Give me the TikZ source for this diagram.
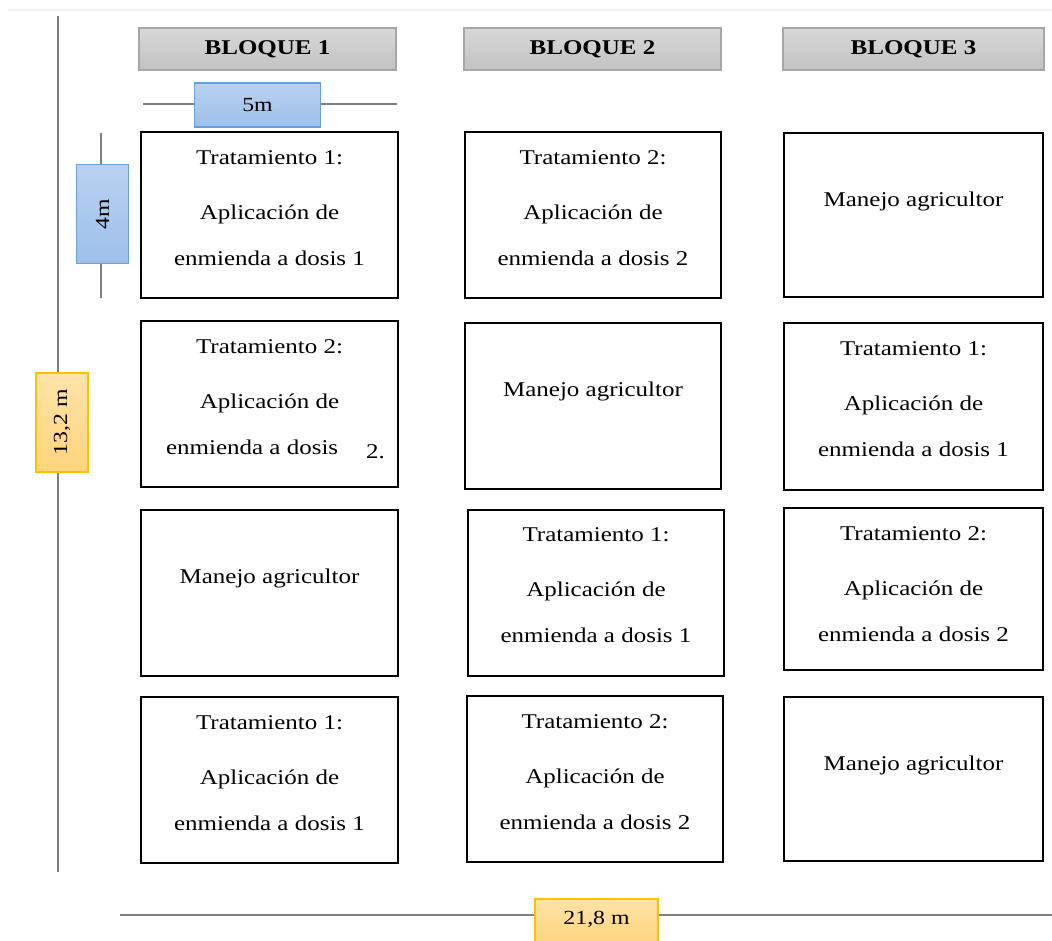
\documentclass[tikz,border=0pt]{standalone}
\usepackage{fontspec}
\setmainfont{Liberation Serif}[FakeStretch=1.19]
\usetikzlibrary{positioning}

\definecolor{lineagris}{HTML}{7F7F7F}
\definecolor{cabeceraA}{HTML}{D8D8D8}
\definecolor{cabeceraB}{HTML}{C2C2C2}
\definecolor{cabeceraborde}{HTML}{A6A6A6}
\definecolor{azulA}{HTML}{B9D1F0}
\definecolor{azulB}{HTML}{9EC0EA}
\definecolor{azulborde}{HTML}{6B9FDB}
\definecolor{naranjaA}{HTML}{FFE3A8}
\definecolor{naranjaB}{HTML}{FFD47C}
\definecolor{naranjaborde}{HTML}{FFC000}

% text of a treated plot
\newcommand{\tratamiento}[1]{Tratamiento #1:\\[30pt]Aplicación de\\[21pt]enmienda a dosis #1}

\tikzset {
  every node/.style = {
    font = \fontsize{21}{25}\selectfont
  },
  % block title
  bloque/.style = {
    draw = cabeceraborde,
    line width = 1.2pt,
    top color = cabeceraA,
    bottom color = cabeceraB,
    minimum width = 257,
    minimum height = 42,
    inner sep = 0,
    font = \fontsize{21}{25}\selectfont\bfseries
  },
  % experimental plot
  parcela/.style = {
    draw = black,
    line width = 2pt,
    minimum width = 257,
    minimum height = 166,
    inner sep = 0
  },
  % text inside a plot
  texto/.style = {
    align = center,
    inner sep = 0
  },
  % dimension line
  cota/.style = {
    draw = lineagris,
    line width = 2.8pt
  },
  medida/.style = {
    line width = 1.2pt,
    inner sep = 0,
    font = \fontsize{20}{24}\selectfont
  },
  medidaazul/.style = {
    medida,
    draw = azulborde,
    top color = azulA,
    bottom color = azulB
  },
  medidanaranja/.style = {
    medida,
    draw = naranjaborde,
    top color = naranjaA,
    bottom color = naranjaB
  }
}

\begin{document}
\begin{tikzpicture}[x=1pt,y=-1pt]
    \useasboundingbox (0,0) rectangle (1052,941);
    \clip (0,0) rectangle (1052,941);

    \coordinate (bordeA) at (8,10);
    \coordinate (bordeB) at (1052,10);
    \draw[draw = black!6, line width = 2pt] (bordeA) -- (bordeB);

    % dimension lines
    \coordinate (largoA) at (58,16);
    \coordinate (largoB) at (58,872);
    \coordinate (anchoA) at (120,915);
    \coordinate (anchoB) at (1060,915);
    \coordinate (parcelaA) at (143,104);
    \coordinate (parcelaB) at (397,104);
    \coordinate (parcelaC) at (101,133);
    \coordinate (parcelaD) at (101,298);
    \draw[cota] (largoA) -- (largoB);
    \draw[cota] (anchoA) -- (anchoB);
    \draw[cota] (parcelaA) -- (parcelaB);
    \draw[cota] (parcelaC) -- (parcelaD);

    \node[medidaazul, minimum width = 126, minimum height = 44] (m5) at (257.5,105) {5m};
    \node[medidaazul, rotate = 90, minimum width = 99, minimum height = 52] (m4) at (102.5,214) {4m};
    \node[medidanaranja, rotate = 90, minimum width = 99, minimum height = 52] (m132) at (62,422.5) {13,2 m};
    \node[medidanaranja, minimum width = 123, minimum height = 46] (m218) at (596.5,922) {};
    \node[font = \fontsize{20}{24}\selectfont] (t218) at (596.5,919) {21,8 m};

    % block titles
    \node[bloque] (bloque1) at (267.5,49) {BLOQUE 1};
    \node[bloque] (bloque2) at (592.5,49) {BLOQUE 2};
    \node[bloque, minimum width = 261] (bloque3) at (913.5,49) {BLOQUE 3};

    % block 1
    \node[parcela] (b1p1) at (269.5,215.5) {};
    \node[parcela] (b1p2) at (269.5,404) {};
    \node[parcela] (b1p3) at (269.5,592.5) {};
    \node[parcela] (b1p4) at (269.5,780) {};
    \node[texto, below = 19pt of b1p1.north] (t1p1) {\tratamiento{1}};
    \node[texto, below = 19pt of b1p2.north] (t1p2) {Tratamiento 2:\\[30pt]Aplicación de\\[21pt]\hspace*{12pt}enmienda a dosis\hspace{28pt}\raisebox{-4pt}{2.}};
    \node[texto, below = 60pt of b1p3.north] (t1p3) {Manejo agricultor};
    \node[texto, below = 19pt of b1p4.north] (t1p4) {\tratamiento{1}};

    % block 2
    \node[parcela, minimum width = 256] (b2p1) at (593,215.5) {};
    \node[parcela, minimum width = 256] (b2p2) at (593,406) {};
    \node[parcela, minimum width = 256] (b2p3) at (596,592.5) {};
    \node[parcela, minimum width = 256] (b2p4) at (595,779) {};
    \node[texto, below = 19pt of b2p1.north] (t2p1) {\tratamiento{2}};
    \node[texto, below = 60pt of b2p2.north] (t2p2) {Manejo agricultor};
    \node[texto, below = 19pt of b2p3.north] (t2p3) {\tratamiento{1}};
    \node[texto, below = 19pt of b2p4.north] (t2p4) {\tratamiento{2}};

    % block 3
    \node[parcela, minimum width = 259, minimum height = 164] (b3p1) at (913.5,215) {};
    \node[parcela, minimum width = 259, minimum height = 167] (b3p2) at (913.5,406.5) {};
    \node[parcela, minimum width = 259, minimum height = 162] (b3p3) at (913.5,589) {};
    \node[parcela, minimum width = 259, minimum height = 164] (b3p4) at (913.5,779) {};
    \node[texto, below = 60pt of b3p1.north] (t3p1) {Manejo agricultor};
    \node[texto, below = 19pt of b3p2.north] (t3p2) {\tratamiento{1}};
    \node[texto, below = 19pt of b3p3.north] (t3p3) {\tratamiento{2}};
    \node[texto, below = 60pt of b3p4.north] (t3p4) {Manejo agricultor};
\end{tikzpicture}
\end{document}
